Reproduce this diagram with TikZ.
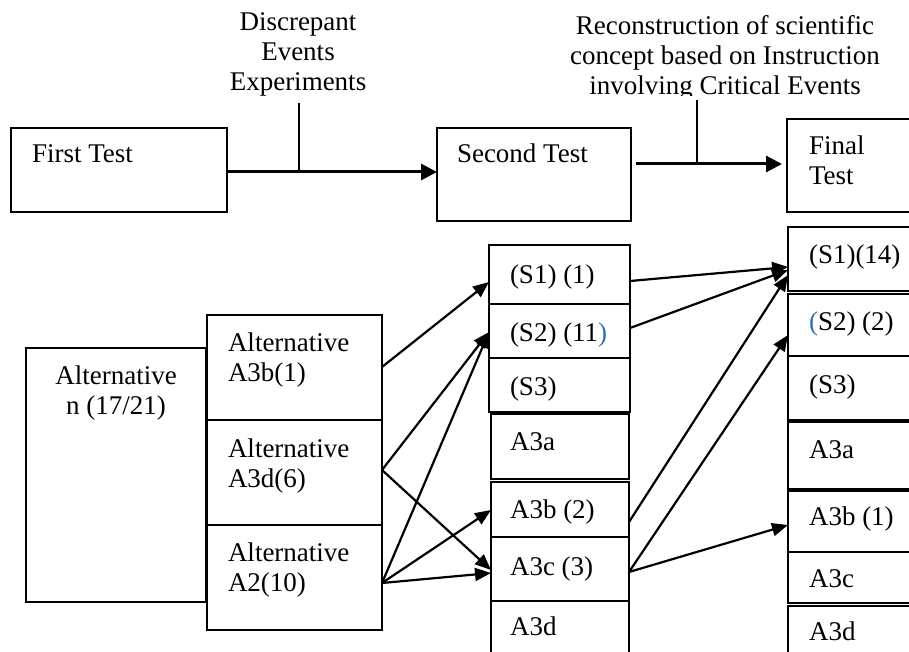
\documentclass[tikz,border=0pt]{standalone}
\usepackage{fontspec}
\setmainfont{Liberation Serif}
\usetikzlibrary{arrows.meta}
\definecolor{wordblue}{RGB}{46,116,181}
\begin{document}
\begin{tikzpicture}[x=1pt,y=-1pt,
  box/.style={draw,line width=2pt,anchor=north west,inner sep=0pt,outer sep=0pt},
  txt/.style={anchor=base west,inner sep=0pt,outer sep=0pt,font=\fontsize{27}{30}\selectfont},
  ctxt/.style={anchor=base,align=center,inner sep=0pt,outer sep=0pt,font=\fontsize{27}{30}\selectfont},
  arr/.style={line width=2.2pt,-{Triangle[length=16pt,width=13pt]}},
  bigarr/.style={line width=3pt,-{Triangle[length=16pt,width=16pt]}},
  tick/.style={line width=1.8pt}]
\clip (0,0) rectangle (909,652);
\fill[white] (0,0) rectangle (909,652);
% top row boxes
\node[box,minimum width=216pt,minimum height=84pt] (first) at (11,128) {};
\node[box,minimum width=194pt,minimum height=93pt] (second) at (437,128) {};
\node[box,minimum width=143pt,minimum height=93pt] (final) at (787,119) {};
\node[txt] (tfirst) at (32,163) {First Test};
\node[txt] (tsecond) at (457,163) {Second Test};
\node[txt,align=left] (tfinal) at (809,185) {Final\\Test};
% labels above
\node[ctxt] (ldisc) at (298,91) {Discrepant\\Events\\Experiments};
\begin{scope}
\clip (540,0) rectangle (909,96);
\node[ctxt] (lrec) at (725,95) {Reconstruction of scientific\\concept based on Instruction\\involving Critical Events};
\end{scope}
% top arrows
\coordinate (c1top) at (299,103);
\coordinate (c1bot) at (299,172);
\coordinate (c2top) at (697,100);
\coordinate (c2bot) at (697,164);
\draw[bigarr] ([yshift=-44pt]first.north east) -- ([yshift=-44pt]second.north west);
\draw[bigarr] ([xshift=5pt,yshift=-36pt]second.north east) -- ([xshift=-5pt,yshift=-45pt]final.north west);
\draw[tick] (c1top) -- (c1bot);
\draw[tick] (c2top) -- (c2bot);
% left boxes
\node[box,minimum width=180pt,minimum height=254pt] (altn) at (26,348) {};
\node[box,minimum width=175pt,minimum height=105pt] (alt1) at (207,315) {};
\node[box,minimum width=175pt,minimum height=105pt] (alt2) at (207,420) {};
\node[box,minimum width=175pt,minimum height=105pt] (alt3) at (207,525) {};
\node[ctxt] (taltn) at (116,414) {Alternative\\n (17/21)};
\node[txt,align=left] (talt1) at (228,381) {Alternative\\A3b(1)};
\node[txt,align=left] (talt2) at (228,487) {Alternative\\A3d(6)};
\node[txt,align=left] (talt3) at (228,591) {Alternative\\A2(10)};
% middle column
\node[box,minimum width=141pt,minimum height=59pt] (s1) at (489,245) {};
\node[box,minimum width=141pt,minimum height=54pt] (s2) at (489,304) {};
\node[box,minimum width=141pt,minimum height=54pt] (s3) at (489,358) {};
\node[box,minimum width=138pt,minimum height=65pt] (m4) at (491,414) {};
\node[box,minimum width=138pt,minimum height=55pt] (m5) at (491,482) {};
\node[box,minimum width=138pt,minimum height=64pt] (m6) at (491,537) {};
\node[box,minimum width=138pt,minimum height=70pt] (m7) at (491,601) {};
\node[txt] (ts1) at (510,283) {(S1) (1)};
\node[txt] (ts2) at (510,341) {(S2) (11{\color{wordblue})}};
\node[txt] (ts3) at (510,395) {(S3)};
\node[txt] (tm4) at (510,450) {A3a};
\node[txt] (tm5) at (510,518) {A3b (2)};
\node[txt] (tm6) at (510,575) {A3c (3)};
\node[txt] (tm7) at (510,635) {A3d};
% final column
\node[box,minimum width=140pt,minimum height=64pt] (f1) at (788,227) {};
\node[box,minimum width=140pt,minimum height=62pt] (f2) at (788,294) {};
\node[box,minimum width=140pt,minimum height=64pt] (f3) at (788,356) {};
\node[box,minimum width=140pt,minimum height=67pt] (f4) at (788,422) {};
\node[box,minimum width=140pt,minimum height=61pt] (f5) at (788,491) {};
\node[box,minimum width=140pt,minimum height=51pt] (f6) at (788,552) {};
\node[box,minimum width=140pt,minimum height=60pt] (f7) at (788,606) {};
\node[txt] (tf1) at (809,263) {(S1)(14)};
\node[txt] (tf2) at (809,330) {{\color{wordblue}(}S2) (2)};
\node[txt] (tf3) at (809,393) {(S3)};
\node[txt] (tf4) at (809,458) {A3a};
\node[txt] (tf5) at (809,525) {A3b (1)};
\node[txt] (tf6) at (809,587) {A3c};
\node[txt] (tf7) at (809,640) {A3d};
% arrows left -> middle
\draw[arr] ([yshift=-52pt]alt1.north east) -- ([yshift=-37pt]s1.north west);
\draw[arr] ([yshift=-50pt]alt2.north east) -- ([yshift=-28pt]s2.north west);
\draw[arr] ([yshift=-50pt]alt2.north east) -- ([yshift=-33pt]m6.north west);
\draw[arr] ([yshift=-58pt]alt3.north east) -- ([yshift=-28pt]s2.north west);
\draw[arr] ([yshift=-58pt]alt3.north east) -- ([yshift=-28pt]m5.north west);
\draw[arr] ([yshift=-58pt]alt3.north east) -- ([yshift=-36pt]m6.north west);
% arrows middle -> final
\draw[arr] ([yshift=-36pt]s1.north east) -- ([yshift=-40pt]f1.north west);
\draw[arr] ([yshift=-24pt]s2.north east) -- ([yshift=-43pt]f1.north west);
\draw[arr] ([yshift=-40pt]m5.north east) -- ([yshift=-48pt]f1.north west);
\draw[arr] ([yshift=-35pt]m6.north east) -- ([yshift=-41pt]f2.north west);
\draw[arr] ([yshift=-35pt]m6.north east) -- ([yshift=-34pt]f5.north west);
\end{tikzpicture}
\end{document}
